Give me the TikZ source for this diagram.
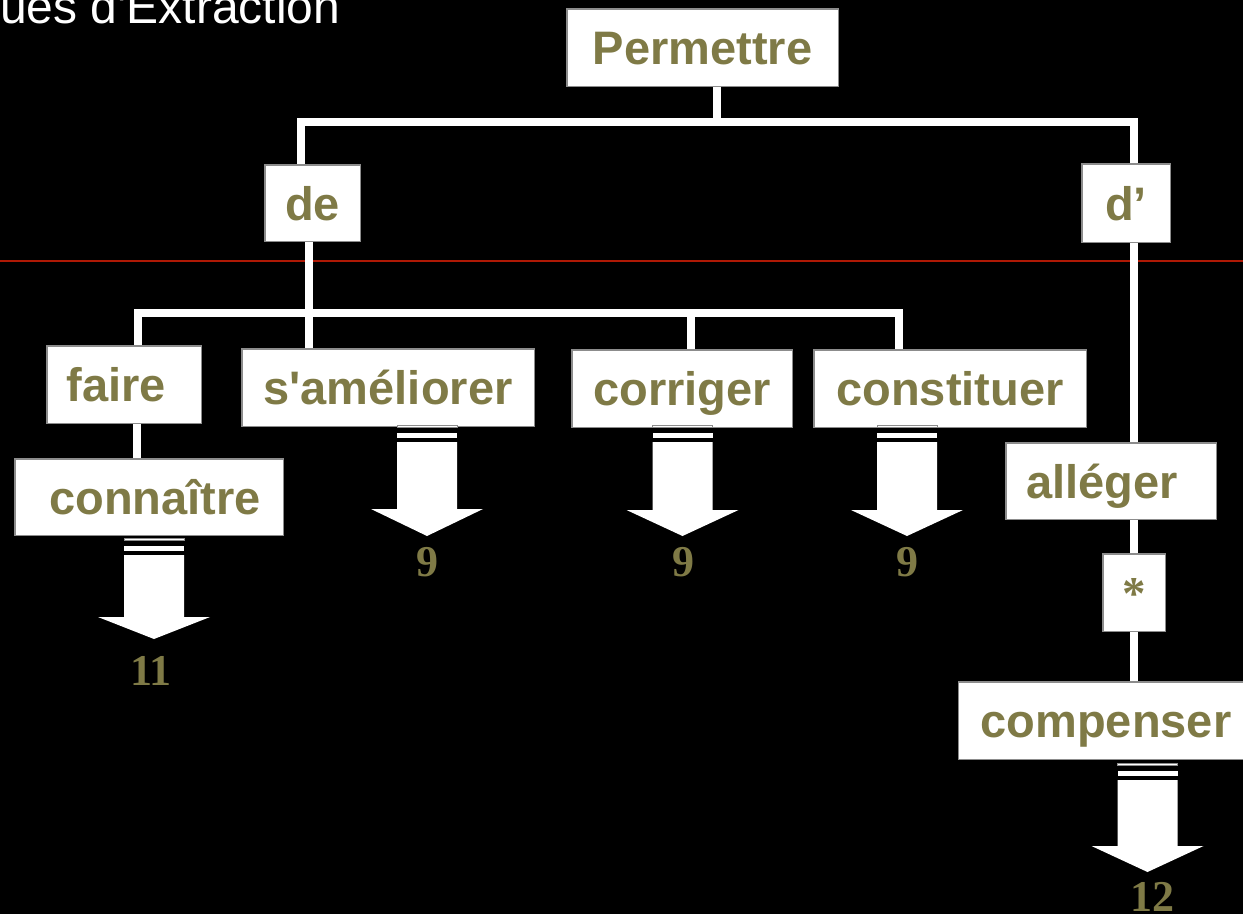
\documentclass[tikz,border=0pt]{standalone}
\usepackage{fontspec}
\setmainfont{Liberation Sans}
\newfontfamily\serifnum{Liberation Serif}
\definecolor{olivetxt}{RGB}{127,122,70}
\definecolor{redrule}{RGB}{175,25,5}
\newcommand\stripedarrow[4]{%
  \filldraw[fill=white, draw=black!45, line width=0.6pt] (#1-30,#2) rectangle (#1+30,#2+2.5);
  \fill[white] (#1-30,#2+8) rectangle (#1+30,#2+13);
  \fill[white] (#1-30,#2+17) -- (#1+30,#2+17) -- (#1+30,#3) -- (#1+56,#3) -- (#1,#4) -- (#1-56,#3) -- (#1-30,#3) -- cycle;}
\begin{document}
\begin{tikzpicture}[x=1pt,y=-1pt]
\tikzset{
  box/.style={fill=white, draw=black!45, line width=0.8pt, minimum height=77pt, inner sep=0pt,
    text=olivetxt, font=\fontsize{47}{56}\selectfont\bfseries, text height=34pt, text depth=0pt},
  conn/.style={draw=white, line width=7.5pt},
  num/.style={text=olivetxt, font=\serifnum\fontsize{44}{50}\selectfont\bfseries, anchor=base, inner sep=0pt},
  redline/.style={draw=redrule, line width=2.5pt},
}
\fill[black] (0,0) rectangle (1243,914);
\useasboundingbox (0,0) rectangle (1243,914);
\clip (0,0) rectangle (1243,914);

\node[anchor=base west, text=white, font=\fontsize{48}{56}\selectfont, inner sep=0pt] (title) at (0,23) {ues d\textquotesingle Extraction};

\path (702.5,47.5) node[box, minimum width=271pt] (perm) {Permettre};
\path (312.5,203) node[box, minimum width=95pt, minimum height=76pt] (de) {de};
\path (1126,203) node[box, minimum width=88pt, minimum height=78pt] (dp) {d’};

\draw[redline] (0,261) -- (1243,261);

\path (124,384.5) node[box, minimum width=154pt] (faire) {faire\kern16pt};
\path (388,387.5) node[box, minimum width=292pt] (sam) {s\textquotesingle améliorer};
\path (682,388.5) node[box, minimum width=220pt] (corr) {corriger};
\path (950,388.5) node[box, minimum width=272pt] (cons) {constituer};
\path (149,497) node[box, minimum width=268pt, minimum height=76pt] (conn) {\kern12pt connaître};
\path (1111,481) node[box, minimum width=210pt, minimum height=76pt] (all) {alléger\kern18pt};
\path (1134,592.5) node[box, minimum width=62pt, font=\serifnum\fontsize{47}{56}\selectfont\bfseries] (star) {*};
\path (1106,720.5) node[box, minimum width=295pt] (comp) {compenser};

% connectors
\draw[conn] (perm.south -| 717,0) -- (717,122) -| (de.north -| 301,0);
\draw[conn] (717,122) -| (dp.north -| 1134,0);
\draw[conn] (dp.south -| 1134,0) -- (all.north -| 1134,0);
\draw[conn] (all.south -| 1134,0) -- (star.north);
\draw[conn] (star.south) -- (comp.north -| 1134,0);
\draw[conn] (de.south -| 309,0) -- (sam.north -| 309,0);
\draw[conn] (faire.north -| 138,0) |- (899,313) -- (cons.north -| 899,0);
\draw[conn] (691,313) -- (corr.north -| 691,0);
\draw[conn] (faire.south -| 137,0) -- (conn.north -| 137,0);

\foreach \n in {perm,de,dp,faire,sam,corr,cons,conn,all,star,comp}{
  \draw[black!45, line width=0.8pt] (\n.south west) rectangle (\n.north east);
}

% striped block arrows
\stripedarrow{427}{425}{509}{536}
\stripedarrow{682.5}{425}{510}{536}
\stripedarrow{907}{425}{510}{536}
\stripedarrow{154}{538}{617}{639}
\stripedarrow{1147.5}{763}{846}{872}

% numbers
\node[num] (n1) at (427,576) {9};
\node[num] (n2) at (683,576) {9};
\node[num] (n3) at (907,576) {9};
\node[num] (n4) at (151,685) {11};
\node[num] (n5) at (1152,911) {12};
\end{tikzpicture}
\end{document}
